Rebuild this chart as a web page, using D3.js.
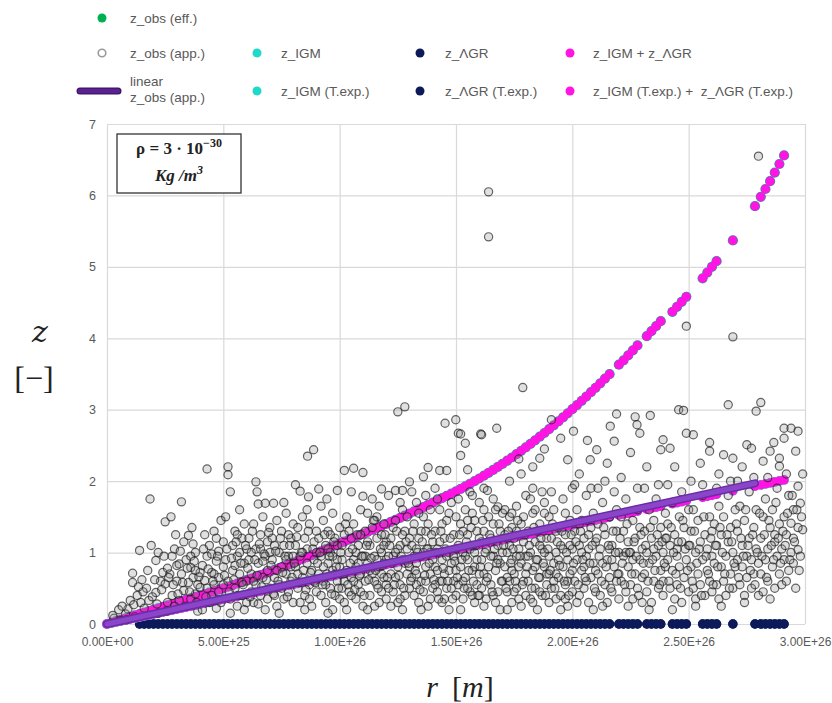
<!DOCTYPE html>
<html>
<head>
<meta charset="utf-8">
<script src="https://cdn.jsdelivr.net/npm/d3@7"></script>
<style>
  html, body { margin: 0; padding: 0; background: #fff; }
  svg { display: block; }
  text { font-family: "Liberation Sans", Arial, sans-serif; white-space: pre; }
</style>
</head>
<body>
<svg id="chart" width="832" height="703"></svg>
<script>
// ---------------- DATA (r in units of 1e26 m) ----------------
const xTickValues = [0, 0.5, 1, 1.5, 2, 2.5, 3];
const xTickLabels = ["0.00E+00", "5.00E+25", "1.00E+26", "1.50E+26", "2.00E+26", "2.50E+26", "3.00E+26"];
const yTickValues = [0, 1, 2, 3, 4, 5, 6, 7];

// r of the model points (z_IGM and the sums)
const rModel = [0,0.02,0.04,0.06,0.08,0.1,0.12,0.14,0.16,0.18,0.2,0.22,0.24,0.26,0.28,0.3,0.32,0.34,0.36,0.38,0.4,0.42,0.44,0.46,0.48,0.5,
  0.52,0.54,0.56,0.58,0.6,0.62,0.64,0.66,0.68,0.7,0.72,0.74,0.76,0.78,0.8,0.82,0.84,0.86,0.88,0.9,0.92,0.94,0.96,0.98,1.0,
  1.02,1.04,1.06,1.08,1.1,1.12,1.14,1.16,1.18,1.2,1.22,1.24,1.26,1.28,1.3,1.32,1.34,1.36,1.38,1.4,1.42,1.44,1.46,1.48,1.5,
  1.52,1.54,1.56,1.58,1.6,1.62,1.64,1.66,1.68,1.7,1.72,1.74,1.76,1.78,1.8,1.82,1.84,1.86,1.88,1.9,1.92,1.94,1.96,1.98,2.0,
  2.02,2.04,2.06,2.08,2.1,2.12,2.14,2.16,
  2.2,2.22,2.24,2.26,2.28, 2.32,2.34,2.36,2.38, 2.43,2.45,2.47,2.49, 2.56,2.58,2.6,2.62, 2.69,
  2.785,2.81,2.83,2.85,2.87,2.89,2.91];

// z_IGM + z_ΛGR
const zSum = [0,0.02,0.04,0.06,0.08,0.1,0.12,0.14,0.16,0.18,0.2,0.22,0.24,0.26,0.28,0.3,0.32,0.34,0.36,0.38,0.4,0.42,0.44,0.46,0.48,0.5,
  0.522,0.544,0.567,0.59,0.613,0.636,0.66,0.684,0.708,0.732,0.757,0.782,0.807,0.832,0.858,0.884,0.91,0.936,0.963,0.99,1.017,1.044,1.072,1.1,1.128,
  1.154,1.18,1.207,1.234,1.261,1.288,1.316,1.344,1.372,1.4,1.429,1.458,1.487,1.516,1.546,1.576,1.606,1.636,1.667,1.698,1.729,1.761,1.793,1.825,1.857,
  1.891,1.926,1.962,1.999,2.037,2.076,2.116,2.157,2.199,2.242,2.286,2.331,2.377,2.424,2.472,2.521,2.571,2.622,2.674,2.727,2.781,2.836,2.892,2.949,3.007,
  3.065,3.124,3.184,3.245,3.307,3.37,3.434,3.498,
  3.63,3.69,3.76,3.83,3.9, 4.03,4.1,4.17,4.24, 4.37,4.44,4.51,4.58, 4.84,4.92,5.0,5.08, 5.37,
  5.85,5.98,6.09,6.2,6.32,6.44,6.56];
// z_IGM (practically identical to the sum)
const zIGM = [0,0.02,0.04,0.06,0.08,0.1,0.12,0.14,0.16,0.18,0.2,0.22,0.24,0.26,0.28,0.3,0.32,0.34,0.36,0.38,0.4,0.42,0.44,0.46,0.48,0.5,
  0.522,0.544,0.567,0.59,0.613,0.636,0.66,0.684,0.708,0.732,0.757,0.782,0.807,0.832,0.858,0.884,0.91,0.936,0.963,0.99,1.017,1.044,1.072,1.1,1.128,
  1.154,1.18,1.207,1.234,1.261,1.288,1.316,1.344,1.372,1.4,1.429,1.458,1.487,1.516,1.546,1.576,1.606,1.636,1.667,1.698,1.729,1.761,1.793,1.825,1.857,
  1.891,1.926,1.962,1.999,2.037,2.076,2.116,2.157,2.199,2.242,2.286,2.331,2.377,2.424,2.472,2.521,2.571,2.622,2.674,2.727,2.781,2.836,2.892,2.949,3.007,
  3.065,3.124,3.184,3.245,3.307,3.37,3.434,3.498,
  3.63,3.69,3.76,3.83,3.9, 4.03,4.1,4.17,4.24, 4.37,4.44,4.51,4.58, 4.84,4.92,5.0,5.08, 5.37,
  5.85,5.98,6.09,6.2,6.32,6.44,6.56];

// z_IGM (T.exp.) + z_ΛGR (T.exp.)  (and z_IGM (T.exp.))
const zSumTexp = [0,0.014,0.028,0.042,0.055,0.069,0.083,0.097,0.111,0.125,0.139,0.152,0.166,0.18,0.194,0.208,0.222,0.236,0.249,0.263,0.277,0.291,0.305,0.319,0.333,0.347,
  0.36,0.374,0.388,0.402,0.416,0.43,0.444,0.457,0.471,0.485,0.499,0.513,0.527,0.541,0.554,0.568,0.582,0.596,0.61,0.624,0.638,0.651,0.665,0.679,0.693,
  0.707,0.721,0.735,0.748,0.762,0.776,0.79,0.804,0.818,0.832,0.845,0.859,0.873,0.887,0.901,0.915,0.929,0.942,0.956,0.97,0.984,0.998,1.012,1.026,1.04,
  1.053,1.067,1.081,1.095,1.109,1.123,1.137,1.15,1.164,1.178,1.192,1.206,1.22,1.234,1.247,1.261,1.275,1.289,1.303,1.317,1.331,1.344,1.358,1.372,1.386,
  1.4,1.414,1.428,1.441,1.455,1.469,1.483,1.497,
  1.525,1.538,1.552,1.566,1.58, 1.608,1.622,1.635,1.649, 1.684,1.698,1.712,1.726, 1.774,1.788,1.802,1.816, 1.864,
  1.93,1.947,1.961,1.975,1.989,2.003,2.017];
const zIGMTexp = zSumTexp;

// z_ΛGR and z_ΛGR (T.exp.) (values ~0), visible from r ≈ 0.14
const rLGR = [0.14,0.16,0.18,0.2,0.22,0.24,0.26,0.28,0.3,0.32,0.34,0.36,0.38,0.4,0.42,0.44,0.46,0.48,0.5,
  0.52,0.54,0.56,0.58,0.6,0.62,0.64,0.66,0.68,0.7,0.72,0.74,0.76,0.78,0.8,0.82,0.84,0.86,0.88,0.9,0.92,0.94,0.96,0.98,1.0,
  1.02,1.04,1.06,1.08,1.1,1.12,1.14,1.16,1.18,1.2,1.22,1.24,1.26,1.28,1.3,1.32,1.34,1.36,1.38,1.4,1.42,1.44,1.46,1.48,1.5,
  1.52,1.54,1.56,1.58,1.6,1.62,1.64,1.66,1.68,1.7,1.72,1.74,1.76,1.78,1.8,1.82,1.84,1.86,1.88,1.9,1.92,1.94,1.96,1.98,2.0,
  2.02,2.04,2.06,2.08,2.1,2.12,2.14,2.16,
  2.2,2.22,2.24,2.26,2.28, 2.32,2.34,2.36,2.38, 2.43,2.45,2.47,2.49, 2.56,2.58,2.6,2.62, 2.69,
  2.785,2.81,2.83,2.85,2.87,2.89,2.91];
const zLGR = [0,0,0,0,0,0,0,0,0,0,0,0,0,0,0,0,0,0,0,
  0,0,0,0,0,0,0,0,0,0,0,0,0,0,0,0,0,0,0,0,0,0,0,0,0,
  0,0,0,0,0,0,0,0,0,0,0,0,0,0,0,0,0,0,0,0,0,0,0,0,0,
  0,0,0,0,0,0,0,0,0,0,0,0,0,0,0,0,0,0,0,0,0,0,0,0,0,
  0,0,0,0,0,0,0,0,
  0,0,0,0,0, 0,0,0,0, 0,0,0,0, 0,0,0,0, 0,
  0,0,0,0,0,0,0];

// linear trendline of z_obs (app.)
const trendR = [0, 2.785];
const trendZ = [0, 1.97];

// z_obs (app.) scatter [r, z]
const zObsApp = [
[0.03,0.08],[0.05,0.2],[0.06,0.05],[0.08,0.14],[0.09,0.21],[0.1,0.33],
[0.11,0.71],[0.11,0.58],[0.12,0.1],[0.13,0.4],[0.145,0.3],[0.15,0.62],[0.14,1.03],[0.16,0.22],[0.17,0.5],[0.18,0.33],[0.185,1.75],[0.19,1.1],
[0.21,0.89],[0.21,0.44],[0.22,0.15],[0.23,0.6],[0.24,0.72],[0.25,1.43],[0.25,0.56],[0.26,0.3],[0.27,0.7],[0.275,1.5],[0.28,0.95],[0.29,1.05],[0.29,0.25],[0.3,0.82],[0.22,1.0],[0.26,0.78],[0.28,0.4],[0.3,0.6],
[0.31,0.84],[0.31,0.33],[0.32,0.7],[0.32,1.71],[0.33,0.47],[0.34,0.9],[0.35,1.24],[0.36,0.35],[0.36,0.79],[0.37,1.12],[0.37,0.65],[0.38,0.42],[0.39,0.55],[0.4,0.72],[0.4,0.51],[0.33,1.15],[0.35,0.58],[0.38,1.0],[0.39,0.18],[0.34,0.25],[0.36,0.95],[0.38,0.75],
[0.41,0.82],[0.42,0.61],[0.43,2.17],[0.43,0.95],[0.44,1.1],[0.45,0.4],[0.45,0.72],[0.46,1.3],[0.46,0.55],[0.47,0.88],[0.47,0.22],[0.48,1.02],[0.48,0.65],[0.49,1.45],[0.49,0.3],[0.5,0.8],[0.5,1.15],[0.42,1.25],[0.44,0.3],[0.46,0.7],[0.48,0.45],[0.5,0.55],[0.41,0.2],[0.47,1.2],[0.43,0.5],[0.45,0.98],
[0.52,2.2],[0.52,2.09],[0.53,1.85],[0.51,0.9],[0.52,0.6],[0.53,0.35],[0.54,1.1],[0.54,0.75],[0.55,1.3],[0.55,0.5],[0.56,0.95],[0.56,0.25],[0.57,1.6],[0.57,0.7],[0.58,1.2],[0.58,0.4],[0.59,0.85],[0.59,1.4],[0.6,0.6],[0.6,1.05],[0.51,1.5],[0.53,0.15],[0.55,0.82],[0.57,1.0],[0.58,0.58],[0.6,0.3],[0.56,1.25],[0.59,0.2],
[0.64,1.99],[0.645,1.85],[0.65,1.68],[0.68,1.69],[0.61,0.9],[0.61,1.2],[0.62,0.45],[0.62,0.7],[0.63,1.4],[0.63,0.3],[0.64,1.05],[0.64,0.55],[0.65,0.85],[0.66,1.25],[0.66,0.4],[0.67,0.65],[0.67,1.5],[0.68,0.95],[0.68,0.2],[0.69,1.15],[0.69,0.75],[0.7,1.35],[0.7,0.5],[0.62,1.0],[0.65,0.28],[0.66,1.05],[0.67,0.88],[0.69,0.35],[0.7,1.0],[0.63,0.6],
[0.716,1.69],[0.71,0.9],[0.71,1.2],[0.72,0.4],[0.72,0.65],[0.73,1.45],[0.73,0.25],[0.74,1.0],[0.74,0.55],[0.75,1.3],[0.75,0.8],[0.76,0.35],[0.76,1.1],[0.77,0.7],[0.77,1.55],[0.78,0.45],[0.78,0.95],[0.79,1.2],[0.79,0.6],[0.8,0.3],[0.8,1.4],[0.72,1.1],[0.74,0.15],[0.75,0.5],[0.76,1.7],[0.77,0.9],[0.78,1.25],[0.79,0.8],[0.8,0.95],[0.73,0.75],
[0.81,1.95],[0.83,1.86],[0.862,2.35],[0.888,2.44],[0.866,1.78],[0.81,0.8],[0.81,1.1],[0.82,0.5],[0.82,1.35],[0.83,0.3],[0.83,0.95],[0.84,0.65],[0.84,1.5],[0.85,1.2],[0.85,0.4],[0.86,0.85],[0.86,1.05],[0.87,0.55],[0.87,1.4],[0.88,0.25],[0.88,0.75],[0.89,1.15],[0.89,0.9],[0.9,0.45],[0.9,1.3],[0.82,0.7],[0.84,1.0],[0.85,0.2],[0.86,1.6],[0.87,0.35],[0.89,0.6],[0.9,1.0],
[0.91,1.89],[0.945,1.75],[0.99,1.87],[0.91,0.7],[0.91,1.2],[0.92,0.4],[0.92,0.95],[0.93,1.45],[0.93,0.6],[0.94,0.3],[0.94,1.1],[0.95,0.85],[0.95,1.3],[0.96,0.5],[0.96,1.0],[0.97,0.2],[0.97,0.75],[0.97,1.55],[0.98,1.2],[0.98,0.4],[0.99,0.9],[0.99,0.6],[1.0,1.35],[1.0,0.35],[0.92,1.65],[0.93,0.8],[0.94,0.55],[0.95,1.05],[0.96,1.25],[0.97,0.95],[0.98,0.7],[0.99,1.1],[1.0,0.8],[0.95,0.15],
[1.02,2.15],[1.06,2.18],[1.1,2.12],[1.05,1.85],[1.1,1.79],[1.01,0.9],[1.01,0.5],[1.02,1.25],[1.02,0.3],[1.03,0.75],[1.03,1.5],[1.04,1.0],[1.04,0.45],[1.05,0.65],[1.05,1.2],[1.06,0.9],[1.06,1.4],[1.07,0.35],[1.07,0.8],[1.08,1.1],[1.08,0.55],[1.09,1.6],[1.09,0.7],[1.1,0.95],[1.1,0.25],[1.01,1.1],[1.03,0.2],[1.04,1.3],[1.05,0.4],[1.07,1.0],[1.08,0.85],[1.09,0.45],[1.02,0.6],[1.06,0.6],
[1.18,1.89],[1.11,1.3],[1.11,0.6],[1.12,0.85],[1.12,1.55],[1.13,0.4],[1.13,1.1],[1.14,0.7],[1.14,1.35],[1.15,0.95],[1.15,0.25],[1.16,1.2],[1.16,0.55],[1.17,0.8],[1.17,1.65],[1.18,1.0],[1.18,0.45],[1.19,0.65],[1.19,1.4],[1.2,0.9],[1.2,1.15],[1.2,0.35],[1.11,0.95],[1.12,0.2],[1.13,0.75],[1.14,1.75],[1.15,0.6],[1.16,0.9],[1.17,0.3],[1.18,1.25],[1.19,0.85],[1.15,1.45],[1.12,1.15],[1.16,1.5],[1.18,0.7],[1.2,0.55],
[1.21,1.8],[1.24,1.87],[1.27,1.87],[1.25,2.97],[1.28,3.04],[1.22,0.7],[1.22,1.2],[1.23,0.45],[1.23,0.95],[1.24,1.45],[1.25,0.3],[1.25,0.8],[1.26,1.1],[1.26,0.55],[1.27,1.6],[1.27,0.9],[1.28,0.4],[1.28,1.3],[1.29,0.7],[1.29,1.05],[1.3,0.5],[1.3,1.99],[1.3,1.2],[1.21,0.95],[1.22,0.25],[1.23,1.35],[1.24,0.65],[1.25,1.05],[1.26,1.7],[1.27,0.2],[1.28,0.85],[1.29,1.5],[1.24,1.0],[1.26,0.35],[1.21,0.5],[1.3,0.8],
[1.36,2.06],[1.38,2.19],[1.31,0.65],[1.31,1.1],[1.32,0.4],[1.32,1.4],[1.33,0.85],[1.33,1.7],[1.34,0.3],[1.34,1.2],[1.35,0.6],[1.35,0.95],[1.36,1.5],[1.36,0.45],[1.37,0.8],[1.37,1.3],[1.38,1.05],[1.38,0.25],[1.39,0.7],[1.39,1.6],[1.4,0.5],[1.4,1.15],[1.4,0.9],[1.31,1.85],[1.32,0.95],[1.33,0.55],[1.34,1.55],[1.35,0.2],[1.36,1.0],[1.37,0.6],[1.38,1.4],[1.39,0.35],[1.33,1.05],[1.35,1.3],[1.37,1.8],[1.39,1.0],
[1.43,2.15],[1.46,2.15],[1.453,2.81],[1.499,2.86],[1.41,0.8],[1.41,1.3],[1.42,0.45],[1.42,1.05],[1.43,1.6],[1.43,0.6],[1.44,0.9],[1.44,0.3],[1.45,1.2],[1.45,0.7],[1.46,1.45],[1.46,0.5],[1.47,1.0],[1.47,0.2],[1.48,0.85],[1.48,1.7],[1.49,0.6],[1.49,1.25],[1.5,0.4],[1.5,1.05],[1.41,1.9],[1.42,0.75],[1.43,1.15],[1.44,1.4],[1.45,0.35],[1.46,0.95],[1.47,1.55],[1.48,0.5],[1.49,0.95],[1.5,1.5],[1.42,1.75],[1.44,0.6],[1.47,0.75],[1.5,0.75],
[1.51,2.67],[1.52,2.66],[1.54,2.53],[1.55,2.16],[1.52,2.36],[1.51,1.1],[1.51,0.55],[1.52,0.8],[1.52,1.4],[1.53,0.35],[1.53,1.0],[1.54,1.6],[1.54,0.65],[1.55,0.9],[1.55,1.25],[1.56,0.45],[1.56,1.85],[1.57,0.75],[1.57,1.1],[1.58,0.3],[1.58,1.45],[1.59,0.9],[1.59,0.55],[1.6,1.2],[1.6,1.7],[1.6,0.7],[1.51,1.75],[1.52,0.2],[1.53,1.3],[1.54,0.95],[1.55,0.5],[1.56,1.05],[1.57,1.55],[1.58,0.8],[1.59,1.3],[1.53,0.6],[1.55,1.45],[1.57,0.4],[1.58,1.0],[1.6,0.4],
[1.606,2.66],[1.61,2.65],[1.675,2.74],[1.635,1.87],[1.66,1.75],[1.68,1.64],[1.64,6.05],[1.64,5.42],[1.61,0.9],[1.61,0.5],[1.62,1.3],[1.62,0.7],[1.63,1.05],[1.63,0.35],[1.64,1.5],[1.64,0.8],[1.65,1.2],[1.65,0.55],[1.66,0.95],[1.66,1.4],[1.67,0.3],[1.67,0.75],[1.68,1.1],[1.68,0.45],[1.69,1.3],[1.69,0.85],[1.7,0.6],[1.7,1.55],[1.61,1.15],[1.62,0.25],[1.63,0.6],[1.65,0.95],[1.66,0.4],[1.67,1.6],[1.69,0.2],[1.7,1.0],[1.62,1.9],[1.68,0.9],
[1.77,2.31],[1.787,3.31],[1.73,2.0],[1.78,2.1],[1.71,0.8],[1.71,1.25],[1.72,0.45],[1.72,1.0],[1.73,1.5],[1.73,0.6],[1.74,0.9],[1.74,0.3],[1.75,1.2],[1.75,0.7],[1.76,1.65],[1.76,0.5],[1.77,1.05],[1.77,0.35],[1.78,0.85],[1.78,1.4],[1.79,0.6],[1.79,1.15],[1.8,0.4],[1.8,0.95],[1.8,1.8],[1.71,1.6],[1.72,0.2],[1.73,1.1],[1.74,0.75],[1.75,0.45],[1.76,1.3],[1.77,0.8],[1.78,0.25],[1.79,1.5],[1.72,0.65],[1.74,1.35],[1.76,0.95],[1.8,0.7],
[1.86,2.32],[1.83,2.2],[1.88,2.45],[1.81,0.6],[1.81,1.3],[1.82,0.35],[1.82,1.0],[1.83,0.75],[1.83,1.55],[1.84,0.5],[1.84,1.15],[1.85,0.9],[1.85,0.2],[1.86,1.4],[1.86,0.65],[1.87,1.05],[1.87,0.4],[1.88,0.8],[1.88,1.7],[1.89,1.2],[1.89,0.55],[1.9,0.95],[1.9,0.3],[1.9,1.5],[1.81,0.95],[1.82,1.75],[1.83,0.3],[1.84,0.8],[1.85,1.3],[1.86,0.45],[1.87,1.85],[1.88,1.0],[1.89,0.7],[1.84,1.6],[1.86,1.1],[1.9,0.7],
[1.91,2.86],[1.95,2.6],[1.98,2.3],[1.91,1.2],[1.91,0.5],[1.92,0.85],[1.92,1.6],[1.93,0.35],[1.93,1.0],[1.94,0.65],[1.94,1.35],[1.95,1.1],[1.95,0.4],[1.96,0.8],[1.96,1.75],[1.97,0.55],[1.97,1.25],[1.98,0.9],[1.98,0.25],[1.99,1.45],[1.99,0.7],[2.0,1.05],[2.0,0.45],[2.0,1.9],[1.91,1.85],[1.92,0.6],[1.93,1.3],[1.94,0.9],[1.95,0.2],[1.96,1.05],[1.97,1.55],[1.98,0.6],[1.99,1.1],[1.93,0.7],[1.97,0.35],[2.0,0.75],
[2.005,2.7],[2.065,2.57],[2.077,2.3],[2.03,2.1],[2.01,1.3],[2.01,0.6],[2.02,0.9],[2.02,1.6],[2.03,0.4],[2.03,1.1],[2.04,0.75],[2.04,1.45],[2.05,0.5],[2.05,1.2],[2.06,0.95],[2.06,1.8],[2.07,0.3],[2.07,1.05],[2.08,0.65],[2.08,1.35],[2.09,0.85],[2.09,1.55],[2.1,0.45],[2.1,1.15],[2.01,1.95],[2.02,0.3],[2.04,1.0],[2.05,0.8],[2.06,0.6],[2.08,1.9],[2.09,0.2],[2.1,0.75],[2.03,1.4],[2.07,1.25],
[2.105,2.44],[2.163,2.77],[2.19,2.94],[2.18,2.56],[2.15,2.25],[2.11,0.7],[2.11,1.4],[2.12,0.4],[2.12,1.05],[2.13,0.85],[2.13,1.7],[2.14,0.55],[2.14,1.25],[2.15,0.9],[2.15,0.3],[2.16,1.5],[2.16,0.65],[2.17,1.1],[2.17,0.45],[2.18,0.8],[2.18,1.85],[2.19,1.3],[2.19,0.6],[2.2,1.0],[2.2,0.35],[2.11,1.9],[2.13,0.25],[2.14,2.0],[2.16,1.05],[2.17,0.9],[2.19,1.6],[2.2,0.7],
[2.27,2.9],[2.278,2.79],[2.29,2.67],[2.25,2.4],[2.21,1.5],[2.21,0.6],[2.22,0.95],[2.22,1.3],[2.23,0.45],[2.23,1.75],[2.24,0.8],[2.24,1.15],[2.25,0.55],[2.25,1.0],[2.26,1.45],[2.26,0.35],[2.27,0.7],[2.27,1.2],[2.28,1.6],[2.28,0.5],[2.29,0.9],[2.29,1.35],[2.3,0.3],[2.3,1.05],[2.21,2.05],[2.23,1.0],[2.24,0.25],[2.26,0.9],[2.28,1.9],[2.3,0.65],
[2.335,2.92],[2.39,2.58],[2.38,2.44],[2.32,2.2],[2.31,1.3],[2.31,0.7],[2.32,0.45],[2.32,1.0],[2.33,1.6],[2.33,0.85],[2.34,1.2],[2.34,0.3],[2.35,0.6],[2.35,1.45],[2.36,0.95],[2.36,1.75],[2.37,0.5],[2.37,1.1],[2.38,0.75],[2.38,1.35],[2.39,0.4],[2.39,1.0],[2.4,1.55],[2.4,0.8],[2.31,1.9],[2.33,0.2],[2.35,1.05],[2.37,1.95],[2.39,0.6],[2.4,1.2],
[2.42,2.46],[2.457,3.0],[2.478,2.99],[2.49,2.67],[2.49,4.17],[2.44,2.2],[2.41,0.9],[2.41,1.4],[2.42,0.5],[2.42,1.1],[2.43,0.75],[2.43,1.7],[2.44,0.35],[2.44,1.25],[2.45,0.95],[2.45,0.55],[2.46,1.5],[2.46,0.8],[2.47,1.15],[2.47,0.3],[2.48,0.65],[2.48,1.35],[2.49,0.9],[2.5,0.45],[2.5,1.6],[2.41,1.95],[2.43,0.2],[2.45,1.05],[2.47,1.85],[2.5,1.1],
[2.52,2.65],[2.59,2.54],[2.59,2.42],[2.55,2.25],[2.51,0.8],[2.51,1.3],[2.52,0.5],[2.52,1.6],[2.53,1.0],[2.53,0.35],[2.54,0.7],[2.54,1.45],[2.55,1.15],[2.55,0.55],[2.56,0.9],[2.56,1.8],[2.57,0.4],[2.57,1.25],[2.58,0.75],[2.58,1.05],[2.59,1.5],[2.59,0.6],[2.6,0.95],[2.6,1.3],[2.51,2.0],[2.53,0.25],[2.56,1.95],[2.6,0.45],
[2.65,2.37],[2.69,2.32],[2.67,3.07],[2.69,4.02],[2.63,2.1],[2.61,0.85],[2.61,1.4],[2.62,0.55],[2.62,1.1],[2.63,0.35],[2.63,1.65],[2.64,0.8],[2.64,1.25],[2.65,0.6],[2.65,1.5],[2.66,0.95],[2.66,0.4],[2.67,1.15],[2.67,1.8],[2.68,0.7],[2.68,1.35],[2.69,0.5],[2.69,1.0],[2.7,1.6],[2.7,0.8],[2.62,1.9],[2.64,0.25],[2.68,2.0],
[2.75,2.51],[2.77,2.46],[2.79,2.98],[2.73,2.2],[2.8,6.55],[2.71,0.9],[2.71,1.3],[2.72,0.55],[2.72,1.65],[2.73,0.8],[2.73,1.1],[2.74,0.4],[2.74,1.45],[2.75,0.95],[2.75,0.65],[2.76,1.2],[2.76,1.85],[2.77,0.5],[2.77,0.9],[2.78,1.35],[2.78,0.7],[2.79,1.05],[2.79,1.6],[2.8,0.85],[2.8,0.4],[2.71,2.0],[2.74,0.3],[2.78,2.05],
[2.81,3.1],[2.82,2.28],[2.85,2.42],[2.866,2.54],[2.89,2.32],[2.89,2.21],[2.81,0.7],[2.81,1.2],[2.82,1.5],[2.82,0.45],[2.83,0.9],[2.83,1.75],[2.84,1.05],[2.84,0.6],[2.85,1.35],[2.85,0.35],[2.86,0.8],[2.86,1.6],[2.87,1.15],[2.87,0.5],[2.88,0.95],[2.88,1.9],[2.89,0.7],[2.89,1.4],[2.9,1.05],[2.9,0.55],[2.84,2.05],[2.87,1.25],
[2.91,2.74],[2.94,2.74],[2.97,2.7],[2.91,2.6],[2.96,2.42],[2.97,1.93],[2.98,1.69],[2.99,1.32],[2.94,1.41],[2.95,1.2],[2.97,1.04],[2.95,0.85],[2.91,0.9],[2.91,1.5],[2.92,0.6],[2.92,1.25],[2.93,1.8],[2.93,0.75],[2.94,1.0],[2.95,1.6],[2.96,0.5],[2.97,1.35],[2.98,0.95],[2.92,2.1],
[0.025,0.12],[0.065,0.25],[0.085,0.06],[0.115,0.27],[0.135,0.52],[0.155,0.45],[0.175,0.75],[0.195,0.38],[0.205,0.62],[0.215,0.28],[0.235,0.48],[0.245,0.95],[0.255,0.18],[0.265,0.65],[0.285,0.55],[0.295,1.25],[0.305,0.42],[0.315,1.02],[0.325,0.58],[0.345,0.78],[0.355,0.45],[0.365,1.35],[0.375,0.88],[0.385,0.3],[0.395,0.66],[0.415,1.05],[0.425,0.38],[0.435,0.77],[0.455,0.6],[0.475,0.95],
[0.505,0.68],[0.515,1.05],[0.525,0.45],[0.535,0.92],[0.545,0.62],[0.555,1.15],[0.565,0.4],[0.575,0.85],[0.585,0.55],[0.595,1.1],[0.605,0.78],[0.615,0.38],[0.625,1.3],[0.635,0.9],[0.645,0.68],[0.655,1.12],[0.665,0.52],[0.675,0.98],[0.685,0.62],[0.695,1.28],[0.705,0.82],[0.715,0.42],[0.725,1.02],[0.735,0.6],[0.745,1.2],[0.755,0.72],[0.765,0.95],[0.775,0.38],[0.785,1.1],[0.795,0.65],[0.805,0.85],[0.815,1.22],[0.825,0.58],[0.835,1.0],[0.845,0.75],[0.855,0.48],[0.865,1.3],[0.875,0.72],[0.885,1.05],[0.895,0.58],[0.905,0.85],[0.915,1.0],[0.925,0.55],[0.935,1.25],[0.945,0.7],[0.955,0.95],[0.965,0.42],[0.975,1.15],[0.985,0.8],[0.995,0.5],
[1.005,1.0],[1.015,0.7],[1.025,1.4],[1.035,0.55],[1.045,0.85],[1.055,1.05],[1.065,0.48],[1.075,1.25],[1.085,0.68],[1.095,0.95],[1.105,0.4],[1.115,1.1],[1.125,0.62],[1.135,0.92],[1.145,1.45],[1.155,0.75],[1.165,0.5],[1.175,1.05],[1.185,0.82],[1.195,1.25],[1.205,0.65],[1.215,1.1],[1.225,0.85],[1.235,0.55],[1.245,1.3],[1.255,0.68],[1.265,0.95],[1.275,0.5],[1.285,1.15],[1.295,0.85],[1.305,0.6],[1.315,1.3],[1.325,0.75],[1.335,1.0],[1.345,0.48],[1.355,1.15],[1.365,0.68],[1.375,1.05],[1.385,0.85],[1.395,1.25],[1.405,0.62],[1.415,1.0],[1.425,0.35],[1.435,1.3],[1.445,0.78],[1.455,1.05],[1.465,0.6],[1.475,1.2],[1.485,0.35],[1.495,0.88],[1.41,0.55],[1.33,0.7],[1.27,1.25],[1.19,1.1],[1.09,1.25],
[1.505,0.65],[1.515,1.25],[1.525,0.9],[1.535,0.5],[1.545,1.15],[1.555,0.75],[1.565,1.35],[1.575,0.6],[1.585,1.1],[1.595,0.4],[1.605,0.8],[1.615,1.45],[1.625,1.0],[1.635,0.65],[1.645,1.25],[1.655,0.45],[1.665,1.05],[1.675,0.85],[1.685,1.4],[1.695,0.6],[1.705,1.1],[1.715,0.5],[1.725,1.3],[1.735,0.85],[1.745,1.05],[1.755,0.6],[1.765,1.45],[1.775,0.95],[1.785,0.55],[1.795,1.25],[1.805,0.8],[1.815,1.1],[1.825,0.5],[1.835,1.35],[1.845,0.9],[1.855,0.65],[1.865,1.2],[1.875,0.85],[1.885,0.4],[1.895,1.05],[1.905,0.75],[1.915,1.4],[1.925,0.5],[1.935,1.15],[1.945,0.82],[1.955,1.3],[1.965,0.6],[1.975,1.0],[1.985,0.4],[1.995,1.25],[1.62,1.6],[1.74,1.55],[1.88,1.55],[1.57,1.8],[1.83,1.9],
[2.005,0.85],[2.015,1.15],[2.025,0.55],[2.035,1.3],[2.045,0.9],[2.055,0.65],[2.065,1.45],[2.075,0.85],[2.085,1.1],[2.095,0.5],[2.105,1.2],[2.115,0.95],[2.125,0.6],[2.135,1.35],[2.145,0.8],[2.155,1.1],[2.165,0.5],[2.175,1.3],[2.185,1.0],[2.195,0.7],[2.205,1.2],[2.215,0.85],[2.225,0.55],[2.235,1.4],[2.245,1.0],[2.255,0.7],[2.265,1.15],[2.275,0.95],[2.285,0.4],[2.295,1.25],[2.305,0.85],[2.315,1.1],[2.325,0.6],[2.335,1.35],[2.345,0.9],[2.355,0.75],[2.365,1.25],[2.375,0.55],[2.385,1.15],[2.395,0.85],[2.405,1.2],[2.415,0.6],[2.425,1.35],[2.435,1.0],[2.445,0.7],[2.455,1.15],[2.465,0.5],[2.475,1.45],[2.485,1.05],[2.495,0.75],
[2.505,1.1],[2.515,0.6],[2.525,1.3],[2.535,0.85],[2.545,1.05],[2.555,0.4],[2.565,1.5],[2.575,0.95],[2.585,0.7],[2.595,1.2],[2.605,0.55],[2.615,1.1],[2.625,0.8],[2.635,1.35],[2.645,1.0],[2.655,0.7],[2.665,1.25],[2.675,0.5],[2.685,1.15],[2.695,0.85],[2.705,1.4],[2.715,0.65],[2.725,1.2],[2.735,0.95],[2.745,1.6],[2.755,1.1],[2.765,0.75],[2.775,1.25],[2.785,0.55],[2.795,1.0],[2.805,1.55],[2.815,0.95],[2.825,1.25],[2.835,0.65],[2.845,1.45],[2.855,1.1],[2.865,0.9],[2.875,1.7],[2.885,1.2],[2.895,0.85],[2.905,1.3],[2.915,1.1],[2.925,1.55],[2.935,0.9],[2.945,1.8],[2.955,1.15],[2.965,1.6],[2.975,0.75],[2.985,1.5],[2.99,2.1]
];

// legend
const legendItems = [
  {label: "z_obs (eff.)", kind: "dot", color: "#00b050", col: 0, row: 0},
  {label: "z_obs (app.)", kind: "hollow", color: "#9a9a9a", col: 0, row: 1},
  {label: "z_IGM", kind: "dot", color: "#1fd9c9", col: 1, row: 1},
  {label: "z_ΛGR", kind: "dot", color: "#0c1a5a", col: 2, row: 1},
  {label: "z_IGM + z_ΛGR", kind: "dot", color: "#ff14e4", col: 3, row: 1},
  {label: ["linear", "z_obs (app.)"], kind: "line", color: "#5a2290", col: 0, row: 2},
  {label: "z_IGM (T.exp.)", kind: "dot", color: "#1fd9c9", col: 1, row: 2},
  {label: "z_ΛGR (T.exp.)", kind: "dot", color: "#0c1a5a", col: 2, row: 2},
  {label: "z_IGM (T.exp.) +  z_ΛGR (T.exp.)", kind: "dot", color: "#ff14e4", col: 3, row: 2}
];

// ---------------- DRAW ----------------
const svg = d3.select("#chart");
svg.append("rect").attr("width", 832).attr("height", 703).attr("fill", "#fff");

const L = 107, R = 805, T = 124, B = 624;
const x = d3.scaleLinear().domain([0, 3]).range([L, R]);
const y = d3.scaleLinear().domain([0, 7]).range([B, T]);

const gx = svg.append("g").attr("transform", `translate(0,${B})`)
  .call(d3.axisBottom(x).tickValues(xTickValues).tickSize(-(B - T)).tickPadding(13)
    .tickFormat((d, i) => xTickLabels[i]));
gx.select(".domain").remove();
gx.selectAll("line").attr("stroke", "#d9d9d9").attr("stroke-width", 1.2);
gx.selectAll("text").attr("fill", "#595959").style("font-size", "12px");

const gy = svg.append("g").attr("transform", `translate(${L},0)`)
  .call(d3.axisLeft(y).tickValues(yTickValues).tickSize(-(R - L)).tickPadding(11)
    .tickFormat(d3.format("d")));
gy.select(".domain").remove();
gy.selectAll("line").attr("stroke", "#d9d9d9").attr("stroke-width", 1.2);
gy.selectAll("text").attr("fill", "#595959").style("font-size", "12.5px");

const plot = svg.append("g");

function dots(rs, zs, color, rad) {
  plot.append("g").selectAll("circle")
    .data(rs.map((r, i) => [r, zs[i]]))
    .join("circle")
    .attr("cx", d => x(d[0])).attr("cy", d => y(d[1]))
    .attr("r", rad).attr("fill", color);
}

dots(rLGR, zLGR, "#0c1a5a", 4.7);          // z_ΛGR
dots(rLGR, zLGR, "#0c1a5a", 4.7);          // z_ΛGR (T.exp.)
dots(rModel, zIGM, "#17a89e", 5.1);        // z_IGM
dots(rModel, zIGMTexp, "#1fd9c9", 4.9);    // z_IGM (T.exp.)
dots(rModel, zSumTexp, "#ff14e4", 4.6);    // sum (T.exp.)
dots(rModel, zSum, "#ff14e4", 4.6);        // sum

// observed (apparent) scatter
plot.append("g").selectAll("circle")
  .data(zObsApp).join("circle")
  .attr("cx", d => x(d[0])).attr("cy", d => y(d[1]))
  .attr("r", 4.1)
  .attr("fill", "rgba(130,130,130,0.25)")
  .attr("stroke", "rgba(25,25,25,0.66)")
  .attr("stroke-width", 1.2);

// linear trendline
const trend = trendR.map((r, i) => [r, trendZ[i]]);
const lineGen = d3.line().x(d => x(d[0])).y(d => y(d[1]));
plot.append("path").datum(trend).attr("d", lineGen)
  .attr("fill", "none").attr("stroke", "#6a2ca6").attr("stroke-width", 8).attr("stroke-linecap", "round");
plot.append("path").datum(trend).attr("d", lineGen)
  .attr("fill", "none").attr("stroke", "#8b45c8").attr("stroke-width", 5).attr("stroke-linecap", "round");

// density annotation box
const box = svg.append("g");
box.append("rect").attr("x", 117).attr("y", 134).attr("width", 124).attr("height", 59)
  .attr("fill", "#fff").attr("stroke", "#333").attr("stroke-width", 1.3);
const t1 = box.append("text").attr("x", 179).attr("y", 154).attr("text-anchor", "middle")
  .style("font-family", "'Liberation Serif', 'DejaVu Serif', serif").style("font-weight", "bold").style("font-size", "17px").attr("fill", "#222");
t1.append("tspan").text("ρ = 3 · 10");
t1.append("tspan").attr("dy", -7).style("font-size", "12px").text("−30");
const t2 = box.append("text").attr("x", 179).attr("y", 181).attr("text-anchor", "middle")
  .style("font-family", "'Liberation Serif', 'DejaVu Serif', serif").style("font-weight", "bold").style("font-style", "italic").style("font-size", "17px").attr("fill", "#222");
t2.append("tspan").text("Kg /m");
t2.append("tspan").attr("dy", -7).style("font-size", "12px").text("3");

// axis titles
svg.append("text").attr("x", 40).attr("y", 342).attr("text-anchor", "middle")
  .style("font-family", "'DejaVu Serif', 'Liberation Serif', serif").style("font-style", "italic").style("font-size", "30px")
  .attr("fill", "#222").text("z");
svg.append("text").attr("x", 34).attr("y", 389).attr("text-anchor", "middle")
  .style("font-family", "'Liberation Serif', serif").style("font-size", "32px")
  .attr("fill", "#222").text("[−]");
const xt = svg.append("text").attr("x", 460).attr("y", 697).attr("text-anchor", "middle")
  .style("font-family", "'Liberation Serif', serif").style("font-size", "30px").attr("fill", "#222");
xt.append("tspan").style("font-style", "italic").text("r");
xt.append("tspan").attr("dx", 14).text("[");
xt.append("tspan").style("font-style", "italic").text("m");
xt.append("tspan").text("]");

// legend
const colX = [102, 257, 420, 570];
const colTX = [130, 281, 445, 593];
const rowY = [18, 53, 91];
const lg = svg.append("g");
legendItems.forEach(it => {
  const cx = colX[it.col], cy = rowY[it.row];
  if (it.kind === "dot") {
    lg.append("circle").attr("cx", cx).attr("cy", cy).attr("r", 4.5).attr("fill", it.color);
  } else if (it.kind === "hollow") {
    lg.append("circle").attr("cx", cx).attr("cy", cy).attr("r", 3.8).attr("fill", "#fff")
      .attr("stroke", it.color).attr("stroke-width", 1.6);
  } else {
    lg.append("line").attr("x1", 80).attr("x2", 118).attr("y1", cy).attr("y2", cy)
      .attr("stroke", "#3d1566").attr("stroke-width", 7).attr("stroke-linecap", "round");
    lg.append("line").attr("x1", 80).attr("x2", 118).attr("y1", cy).attr("y2", cy)
      .attr("stroke", it.color).attr("stroke-width", 4.5).attr("stroke-linecap", "round");
  }
  if (Array.isArray(it.label)) {
    lg.append("text").attr("x", colTX[it.col]).attr("y", cy - 10).attr("dy", "0.35em")
      .attr("fill", "#595959").style("font-size", "13.5px").text(it.label[0]);
    lg.append("text").attr("x", colTX[it.col]).attr("y", cy + 6).attr("dy", "0.35em")
      .attr("fill", "#595959").style("font-size", "13.5px").text(it.label[1]);
  } else {
    lg.append("text").attr("x", colTX[it.col]).attr("y", cy).attr("dy", "0.35em")
      .attr("fill", "#595959").style("font-size", "13.5px").text(it.label);
  }
});
</script>
</body>
</html>
